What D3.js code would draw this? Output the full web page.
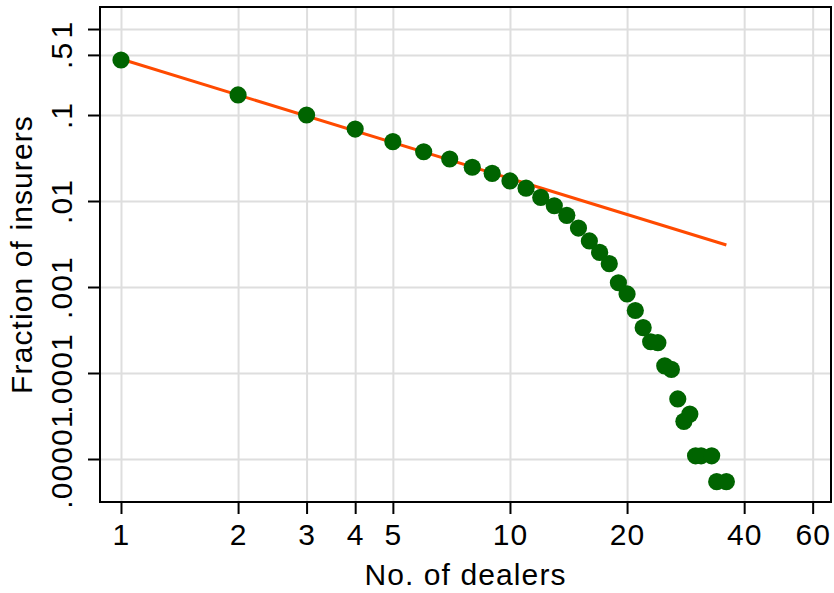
<!DOCTYPE html>
<html>
<head>
<meta charset="utf-8">
<script src="https://cdn.jsdelivr.net/npm/d3@7"></script>
<style>
	body { margin: 0; background: #fff; }
	svg { display: block; }
	text { font-family: "Liberation Sans", Arial, Helvetica, sans-serif; fill: #000; }
</style>
</head>
<body>
<div id="chart"></div>
<script>
// DATA
const dealers = [1, 2, 3, 4, 5, 6, 7, 8, 9, 10, 11, 12, 13, 14, 15, 16, 17, 18, 19, 20,
	21, 22, 23, 24, 25, 26, 27, 28, 29, 30, 31, 33, 34, 36];
const insurers = [0.436, 0.171, 0.100, 0.0687, 0.0490, 0.0374, 0.0308, 0.0247, 0.0210, 0.0171,
	0.0141, 0.0110, 0.00881, 0.00682, 0.00485, 0.00343, 0.00253, 0.00187, 0.00112, 0.00083,
	0.000533, 0.000337, 0.000231, 0.000225, 0.000121, 0.000110, 0.0000499, 0.0000274, 0.0000333, 0.0000109,
	0.0000109, 0.0000109, 0.00000545, 0.00000545];
// fitted power-law line, endpoints
const fitDealers = [1, 36];
const fitInsurers = [0.448, 0.00308];

const xTicks = [1, 2, 3, 4, 5, 10, 20, 40, 60];
const xTickLabels = ['1', '2', '3', '4', '5', '10', '20', '40', '60'];
const yTicks = [0.00001, 0.0001, 0.001, 0.01, 0.1, 0.5, 1];
const yTickLabels = ['.00001', '.0001', '.001', '.01', '.1', '.5', '1'];


// THE GOOD STUFF
const width = 834;
const height = 593;
const margin = { top: 7, right: 3, bottom: 91, left: 100 };
const fontSize = 30;
const spacing = '1.1px';

const svg = d3.select('#chart')
	.append('svg')
	.attr('width', width)
	.attr('height', height);

const xScale = d3.scaleLog()
	.domain([0.8832, 66.88])
	.range([margin.left, width - margin.right]);

const yScale = d3.scaleLog()
	.domain([3.162e-6, 1.803])
	.range([height - margin.bottom, margin.top]);

const points = dealers.map((d, i) => ({ x: d, y: insurers[i] }));
const fit = fitDealers.map((d, i) => ({ x: d, y: fitInsurers[i] }));

// gridlines
svg.append('g')
	.attr('transform', `translate(0, ${height - margin.bottom})`)
	.call(d3.axisBottom(xScale)
		.tickValues(xTicks)
		.tickSize(-(height - margin.top - margin.bottom))
		.tickFormat('')
	)
	.call(g => g.select('.domain').remove())
	.call(g => g.selectAll('line').attr('stroke', '#dedede').attr('stroke-width', 2));

svg.append('g')
	.attr('transform', `translate(${margin.left}, 0)`)
	.call(d3.axisLeft(yScale)
		.tickValues(yTicks)
		.tickSize(-(width - margin.left - margin.right))
		.tickFormat('')
	)
	.call(g => g.select('.domain').remove())
	.call(g => g.selectAll('line').attr('stroke', '#dedede').attr('stroke-width', 2));

// fitted line
svg.append('path')
	.datum(fit)
	.attr('fill', 'none')
	.attr('stroke', '#ff4a00')
	.attr('stroke-width', 3)
	.attr('d', d3.line().x(d => xScale(d.x)).y(d => yScale(d.y)));

// dots
svg.append('g')
	.selectAll('circle')
	.data(points)
	.join('circle')
	.attr('cx', d => xScale(d.x))
	.attr('cy', d => yScale(d.y))
	.attr('r', 8.6)
	.attr('fill', '#006400');

// frame
svg.append('rect')
	.attr('x', margin.left)
	.attr('y', margin.top)
	.attr('width', width - margin.left - margin.right)
	.attr('height', height - margin.top - margin.bottom)
	.attr('fill', 'none')
	.attr('stroke', '#000')
	.attr('stroke-width', 2);

// x axis
svg.append('g')
	.attr('transform', `translate(0, ${height - margin.bottom})`)
	.call(d3.axisBottom(xScale)
		.tickValues(xTicks)
		.tickSize(12)
		.tickPadding(10)
		.tickFormat((d, i) => xTickLabels[i])
	)
	.call(g => g.select('.domain').remove())
	.call(g => g.selectAll('line').attr('stroke', '#000').attr('stroke-width', 2))
	.call(g => g.selectAll('text')
		.attr('font-size', fontSize)
		.attr('letter-spacing', spacing)
		.attr('font-family', '"Liberation Sans", Arial, Helvetica, sans-serif')
		.attr('fill', '#000'));

// y axis, labels turned
svg.append('g')
	.attr('transform', `translate(${margin.left}, 0)`)
	.call(d3.axisLeft(yScale)
		.tickValues(yTicks)
		.tickSize(12)
		.tickFormat((d, i) => yTickLabels[i])
	)
	.call(g => g.select('.domain').remove())
	.call(g => g.selectAll('line').attr('stroke', '#000').attr('stroke-width', 2))
	.call(g => g.selectAll('text')
		.attr('x', null)
		.attr('dy', null)
		.attr('transform', 'translate(-28, 0) rotate(-90)')
		.attr('text-anchor', 'middle')
		.attr('font-size', fontSize)
		.attr('letter-spacing', spacing)
		.attr('font-family', '"Liberation Sans", Arial, Helvetica, sans-serif')
		.attr('fill', '#000'));

// axis titles
svg.append('text')
	.attr('x', (margin.left + width - margin.right) / 2)
	.attr('y', 585)
	.attr('text-anchor', 'middle')
	.attr('font-size', fontSize)
	.attr('letter-spacing', spacing)
	.text('No. of dealers');

svg.append('text')
	.attr('transform', `translate(32, ${(margin.top + height - margin.bottom) / 2}) rotate(-90)`)
	.attr('text-anchor', 'middle')
	.attr('font-size', fontSize)
	.attr('letter-spacing', spacing)
	.text('Fraction of insurers');
</script>
</body>
</html>
